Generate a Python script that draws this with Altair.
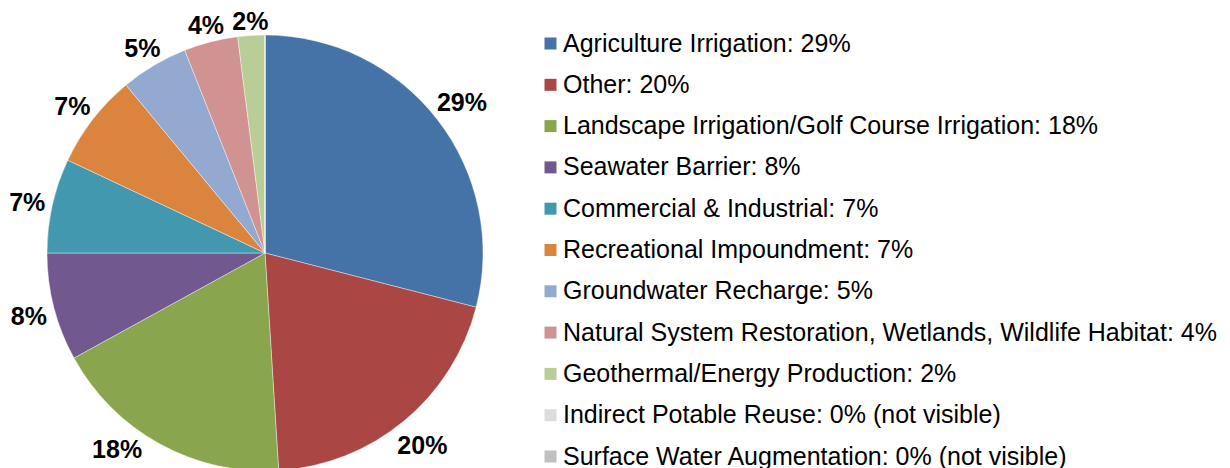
import altair as alt
import pandas as pd

categories = [
    "Agriculture Irrigation",
    "Other",
    "Landscape Irrigation/Golf Course Irrigation",
    "Seawater Barrier",
    "Commercial & Industrial",
    "Recreational Impoundment",
    "Groundwater Recharge",
    "Natural System Restoration, Wetlands, Wildlife Habitat",
    "Geothermal/Energy Production",
    "Indirect Potable Reuse",
    "Surface Water Augmentation",
]
values = [29, 20, 18, 8, 7, 7, 5, 4, 2, 0, 0]
suffixes = ["", "", "", "", "", "", "", "", "", " (not visible)", " (not visible)"]
colors = ["#4572A7", "#AA4643", "#89A54E", "#71588F", "#4198AF", "#DB843D",
          "#93A9CF", "#D19392", "#B9CD96", "#DCDCDC", "#C0C0C0"]

legend_labels = [f"{c}: {v}%{s}" for c, v, s in zip(categories, values, suffixes)]
df = pd.DataFrame({
    "idx": list(range(len(categories))),
    "label": legend_labels,
    "value": values,
    "pct": [f"{v}%" for v in values],
})

FONT = "Liberation Sans"
CX, CY, R = 257, 245, 218
GAP = 6          # gap between pie edge and label box
LBL_SIZE = 25
YMAX = 439       # labels are kept inside the visible chart area (pushed along the circle)

color = alt.Color(
    "label:N",
    scale=alt.Scale(domain=legend_labels, range=colors),
    legend=alt.Legend(
        title=None,
        orient="none",
        legendX=530,
        legendY=23,
        symbolType="square",
        symbolSize=144,
        symbolStrokeWidth=0,
        labelFontSize=25,
        labelFont=FONT,
        labelColor="#000000",
        labelOffset=0,
        rowPadding=15.3,
        padding=0,
        labelLimit=900,
    ),
)

pie = alt.Chart(df).mark_arc(outerRadius=R, stroke="#ffffff", strokeWidth=0.4).encode(
    theta=alt.Theta("value:Q", stack=True),
    order=alt.Order("idx:Q", sort="ascending"),
    color=color,
    x=alt.value(CX),
    y=alt.value(CY),
)

# label position: pie edge + gap + half of the label box's extent along the radial direction
labels = (
    alt.Chart(df)
    .transform_filter("datum.value > 0")
    .transform_joinaggregate(total="sum(value)")
    .transform_window(cum="sum(value)", sort=[alt.SortField("idx", order="ascending")])
    .transform_calculate(
        mid="(datum.cum - datum.value / 2) / datum.total * 2 * PI",
        w=f"{LBL_SIZE} * (0.556 * (length(datum.pct) - 1) + 0.889)",
        r=f"{R + GAP} + abs(sin(datum.mid)) * datum.w / 2 + abs(cos(datum.mid)) * {LBL_SIZE * 0.72} / 2",
    )
    .transform_calculate(
        py=f"min({CY} - datum.r * cos(datum.mid), {YMAX})",
    )
    .transform_calculate(
        px=f"{CX} + (sin(datum.mid) < 0 ? -1 : 1) * sqrt(max(0, datum.r * datum.r - pow(datum.py - {CY}, 2)))",
    )
    .mark_text(fontSize=LBL_SIZE, fontWeight="bold", font=FONT, color="#000000",
               align="center", baseline="middle", dy=3)
    .encode(
        text="pct:N",
        x=alt.X("px:Q", scale=None),
        y=alt.Y("py:Q", scale=None),
    )
)

chart = (
    alt.layer(pie, labels)
    .properties(width=1214, height=470, padding=0, autosize=alt.AutoSizeParams(type="none"))
    .configure(font=FONT)
    .configure_view(stroke="transparent", strokeWidth=0)
)

chart.save("out.html", embed_options={"renderer": "svg", "actions": False})
